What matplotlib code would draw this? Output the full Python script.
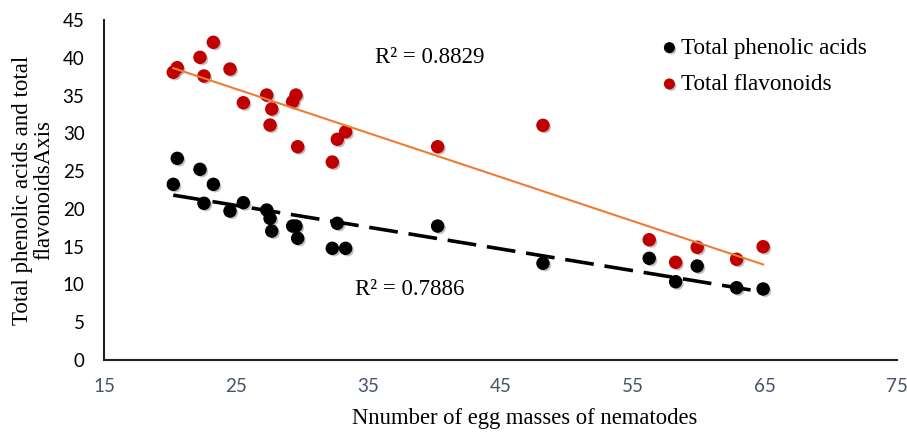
import numpy as np
import matplotlib.pyplot as plt
import matplotlib.patheffects as pe

# --- DADOS ---
egg_masses = [20.24, 20.54, 22.26, 22.56, 23.27, 24.53, 25.54, 27.31, 27.56, 27.69,
              29.27, 29.52, 29.65, 32.27, 32.65, 33.28, 40.24, 48.21, 56.25, 58.25,
              59.88, 62.86, 64.87]
phenolic = [23.25, 26.69, 25.24, 20.74, 23.25, 19.72, 20.82, 19.85, 18.75, 17.07,
            17.73, 17.73, 16.11, 14.78, 18.09, 14.78, 17.73, 12.80, 13.46, 10.36,
            12.44, 9.57, 9.40]
flavonoids = [38.08, 38.69, 40.06, 37.59, 42.05, 38.51, 34.05, 35.07, 31.10, 33.22,
              34.19, 35.07, 28.23, 26.20, 29.21, 30.21, 28.23, 31.06, 15.92, 12.93,
              14.92, 13.33, 15.00]
r2_flav = "R² = 0.8829"
r2_phen = "R² = 0.7886"

SERIF = 'Liberation Serif'

x = np.array(egg_masses)
fig = plt.figure(figsize=(9.07, 4.33), dpi=100)
ax = fig.add_axes([0.1147, 0.1686, 0.8743, 0.7852])

shadow = [pe.SimplePatchShadow(offset=(1.5, -1.5), shadow_rgbFace='0.45', alpha=0.45), pe.Normal()]

ax.scatter(x, phenolic, s=75, color='black', label='Total phenolic acids',
           zorder=3, path_effects=shadow)
ax.scatter(x, flavonoids, s=75, color='#C00000', label='Total flavonoids',
           zorder=3, path_effects=shadow)

# linhas de tendência
xs = np.array([x.min(), x.max()])
p_phen = np.polyfit(x, phenolic, 1)
p_flav = np.polyfit(x, flavonoids, 1)
ax.plot(xs, np.polyval(p_flav, xs), color='#ED7D31', lw=1.5, zorder=4)
ax.plot(xs, np.polyval(p_phen, xs), color='black', lw=2.6, dashes=(8, 3), zorder=4)

ax.text(35.5, 40.0, r2_flav, fontsize=16.5, family=SERIF, va='center')
ax.text(34.0, 9.3, r2_phen, fontsize=16.5, family=SERIF, va='center')

ax.set_xlim(15, 75)
ax.set_ylim(0, 45)
ax.set_xticks(range(15, 76, 10))
ax.set_yticks(range(0, 46, 5))
ax.tick_params(axis='both', length=0, labelsize=13.5)
ax.tick_params(axis='x', pad=13, labelcolor='#44546A')
ax.tick_params(axis='y', pad=14, labelcolor='black')
for lab in ax.get_xticklabels() + ax.get_yticklabels():
    lab.set_family('Lato')

for s in ['top', 'right']:
    ax.spines[s].set_visible(False)
for s in ['left', 'bottom']:
    ax.spines[s].set_linewidth(1.5)
    ax.spines[s].set_color('#222222')

ax.set_xlabel("Nnumber of egg masses of nematodes", fontsize=16.3,
              family=SERIF, labelpad=9)
ax.xaxis.label.set_x(0.531)
ax.set_ylabel("Total phenolic acids and total\nflavonoidsAxis", fontsize=16.5,
              family=SERIF, labelpad=6, linespacing=1.0)

ax.legend(loc='upper left', bbox_to_anchor=(0.672, 1.01), frameon=False,
          prop={'family': SERIF, 'size': 16.7}, markerscale=0.8,
          handletextpad=0.0, labelspacing=0.65, handlelength=1.0)

plt.savefig("out.png", dpi=100)
